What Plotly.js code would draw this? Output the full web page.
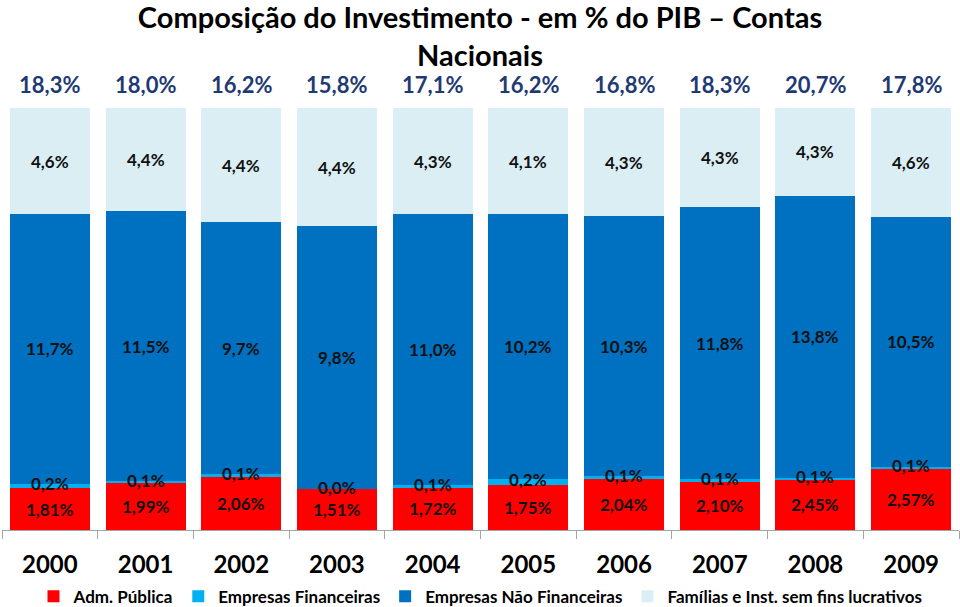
<!DOCTYPE html>
<html><head><meta charset="utf-8">
<script src="https://cdn.plot.ly/plotly-3.0.1.min.js"></script>
<style>body{margin:0;background:#fff}#chart{width:960px;height:607px}</style>
</head><body><div id="chart"></div>
<script>
const years = ['2000','2001','2002','2003','2004','2005','2006','2007','2008','2009'];
const admPublica = [1.81,1.99,2.06,1.51,1.72,1.75,2.04,2.10,2.45,2.57];
const empFinanceiras = [0.2,0.1,0.1,0.0,0.1,0.2,0.1,0.1,0.1,0.1];
const empNaoFinanceiras = [11.7,11.5,9.7,9.8,11.0,10.2,10.3,11.8,13.8,10.5];
const familias = [4.6,4.4,4.4,4.4,4.3,4.1,4.3,4.3,4.3,4.6];
const totais = [18.3,18.0,16.2,15.8,17.1,16.2,16.8,18.3,20.7,17.8];
const admLabels = ['1,81%','1,99%','2,06%','1,51%','1,72%','1,75%','2,04%','2,10%','2,45%','2,57%'];

const FONT = 'Lato, "Open Sans", sans-serif';
const series = [
  {name:'Adm. Pública', vals: admPublica, color:'#FF0000', labels: admLabels},
  {name:'Empresas Financeiras', vals: empFinanceiras, color:'#00B0F0'},
  {name:'Empresas Não Financeiras', vals: empNaoFinanceiras, color:'#0070C0'},
  {name:'Famílias e Inst. sem fins lucrativos', vals: familias, color:'#DBEEF4'}
];
const fmt1 = v => v.toFixed(1).replace('.', ',') + '%';

const traces = series.map(s => ({
  type:'bar', x: years, y: s.vals, name: s.name,
  marker:{color:s.color}, hoverinfo:'skip'
}));

const sums = years.map((_, i) => series.reduce((a, s) => a + s.vals[i], 0));
const annotations = [];
years.forEach((yr, i) => {
  let cum = 0;
  series.forEach(s => {
    const v = s.vals[i];
    const mid = (cum + v / 2) / sums[i] * 100;
    cum += v;
    annotations.push({
      x: i, y: mid, xref:'x', yref:'y', showarrow:false,
      text: s.labels ? s.labels[i] : fmt1(v),
      font:{family:FONT, size:17, color:'#111', weight:'bold'},
      yshift: s.name === 'Empresas Financeiras' ? 2 : 0
    });
  });
  annotations.push({
    x: i, y: 100, xref:'x', yref:'y', yanchor:'bottom', yshift:8, showarrow:false,
    text: fmt1(totais[i]),
    font:{family:FONT, size:22, color:'#1F3A73', weight:'bold'}
  });
});

const layout = {
  width:960, height:607,
  margin:{l:2, r:1, t:108, b:77, autoexpand:false},
  paper_bgcolor:'#fff', plot_bgcolor:'#fff',
  barmode:'stack', barnorm:'percent', bargap:0.164,
  title:{text:'Composição do Investimento - em % do PIB – Contas<br>Nacionais',
    font:{family:FONT, size:29, color:'#000', weight:'bold'},
    x:0.5, xanchor:'center', y:0.954, yanchor:'middle'},
  xaxis:{type:'category', range:[-0.5, 9.5], showline:true, linecolor:'#A6A6A6', linewidth:1,
    ticks:'outside', tickson:'boundaries', ticklen:8, tickcolor:'#A6A6A6',
    tickfont:{family:FONT, size:24, color:'#000', weight:'bold'},
    ticklabelstandoff:13, showgrid:false, fixedrange:true},
  yaxis:{range:[0,100], visible:false, showgrid:false, zeroline:false, fixedrange:true},
  showlegend:true,
  legend:{orientation:'h', x:0.5, xanchor:'center', yref:'container', y:0.017, yanchor:'middle',
    font:{family:FONT, size:17, color:'#000', weight:'bold'},
    itemwidth:30, tracegroupgap:0, traceorder:'normal'},
  annotations
};
Plotly.newPlot('chart', traces, layout, {displayModeBar:false, staticPlot:true});
</script></body></html>
